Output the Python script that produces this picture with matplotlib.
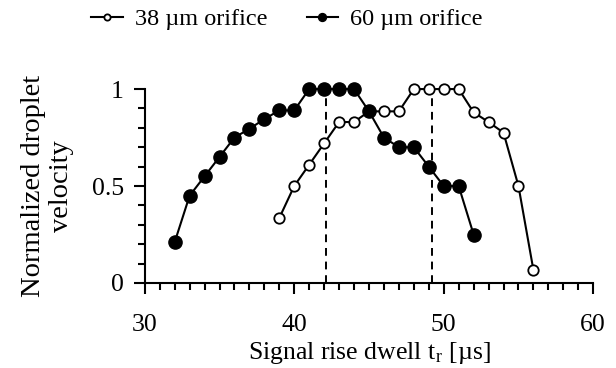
import matplotlib.pyplot as plt
from matplotlib.ticker import MultipleLocator

# 38 um orifice (open circles)
x38 = [39, 40, 41, 42, 43, 44, 45, 46, 47, 48, 49, 50, 51, 52, 53, 54, 55, 56]
v38 = [0.335, 0.50, 0.61, 0.72, 0.83, 0.83, 0.885, 0.885, 0.885, 1.0, 1.0, 1.0, 1.0,
       0.88, 0.83, 0.775, 0.50, 0.067]

# 60 um orifice (filled circles)
x60 = [32, 33, 34, 35, 36, 37, 38, 39, 40, 41, 42, 43, 44, 45, 46, 47, 48, 49, 50, 51, 52]
v60 = [0.21, 0.45, 0.55, 0.65, 0.75, 0.795, 0.845, 0.89, 0.89, 1.0, 1.0, 1.0, 1.0,
       0.885, 0.75, 0.70, 0.70, 0.60, 0.50, 0.50, 0.25]

dwell_marks = [42.1, 49.2]

plt.rcParams['font.family'] = ['Liberation Serif', 'DejaVu Serif']
plt.rcParams['mathtext.fontset'] = 'stix'

fig = plt.figure(figsize=(6.16, 3.68), dpi=100)
ax = fig.add_axes([0.235, 0.231, 0.728, 0.527])

ax.plot(x38, v38, color='black', lw=1.5, marker='o', ms=7.5, mfc='white',
        mec='black', mew=1.3, clip_on=False, zorder=3, label='38 µm orifice')
ax.plot(x60, v60, color='black', lw=1.5, marker='o', ms=9.5, mfc='black',
        mec='black', clip_on=False, zorder=4, label='60 µm orifice')

for xv in dwell_marks:
    ax.axvline(xv, color='black', ls=(0, (4, 3)), lw=1.4, zorder=2)

ax.set_xlim(30, 60)
ax.set_ylim(0, 1)
ax.xaxis.set_major_locator(MultipleLocator(10))
ax.xaxis.set_minor_locator(MultipleLocator(1))
ax.yaxis.set_minor_locator(MultipleLocator(0.1))
ax.set_yticks([0, 0.5, 1])
ax.set_yticklabels(['0', '0.5', '1'])

for s in ['top', 'right']:
    ax.spines[s].set_visible(False)
for s in ['left', 'bottom']:
    ax.spines[s].set_linewidth(1.5)

ax.tick_params(axis='both', which='major', length=8, width=1.5, labelsize=18.5)
ax.tick_params(axis='x', which='major', pad=14)
ax.tick_params(axis='y', which='major', pad=7)
ax.tick_params(axis='both', which='minor', length=5, width=1.5)

ax.set_xlabel('Signal rise dwell t$_\\mathregular{r}$ [µs]', fontsize=18.5, labelpad=3)
ax.set_ylabel('Normalized droplet\nvelocity', fontsize=20.5, labelpad=13, linespacing=1.15)

h, l = ax.get_legend_handles_labels()
fig.legend(h, l, loc='center', bbox_to_anchor=(0.466, 0.948), ncol=2,
           frameon=False, fontsize=17.5, handlelength=1.3, columnspacing=1.6,
           handletextpad=0.5, markerscale=0.6)

fig.savefig('out.png', dpi=100)
